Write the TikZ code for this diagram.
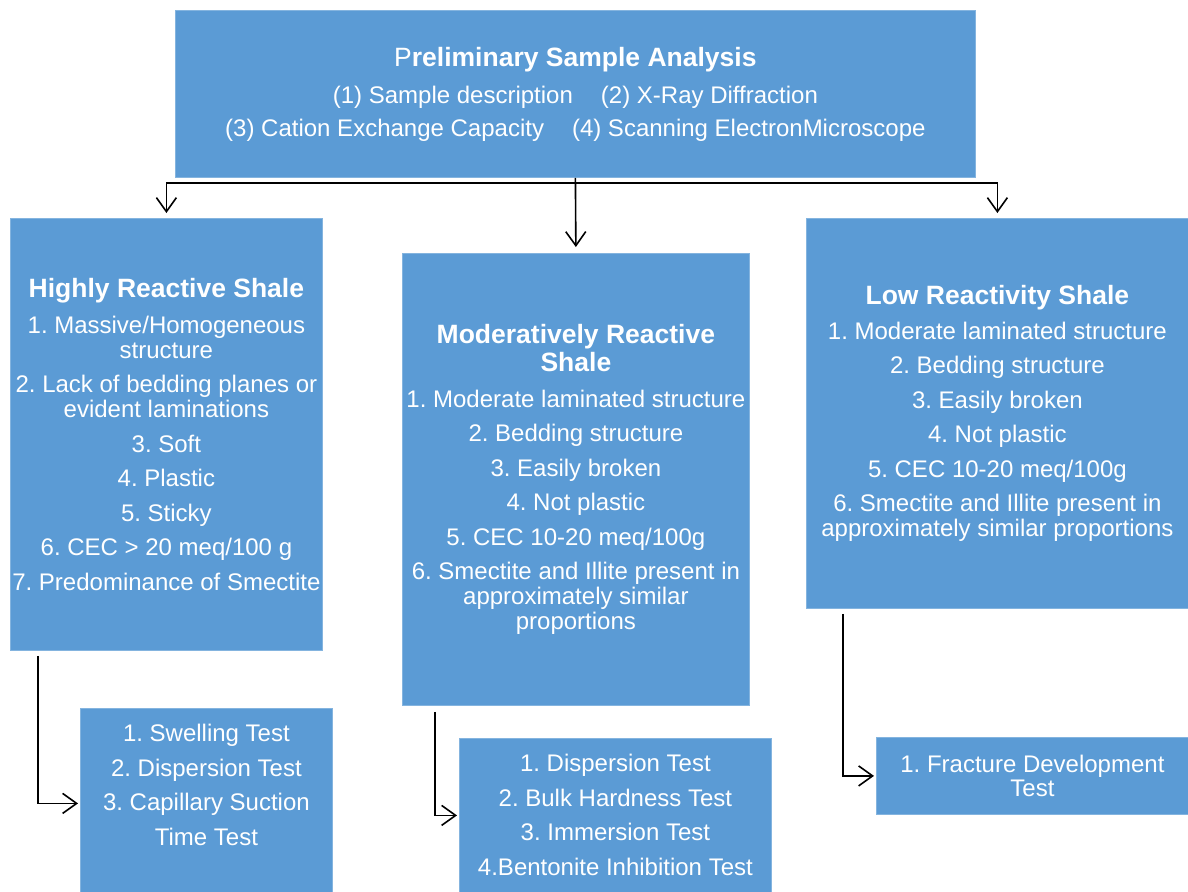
\documentclass[tikz,border=0pt]{standalone}
\usepackage{fontspec}
\setmainfont{Liberation Sans}
\usetikzlibrary{positioning,arrows.meta}
\definecolor{boxblue}{HTML}{5B9BD5}
\frenchspacing
\newcommand\bodyfont{\fontsize{12}{12.5}\selectfont}
\newcommand\headfont{\fontsize{13.25}{14}\selectfont\bfseries}
\newcommand\nextitem{\\[4.75pt]}
\tikzset{
	box/.style		= {rectangle, fill=boxblue, draw=boxblue!75!white, line width=0.4pt, inner sep=0pt,
					   anchor=north west, text=white, align=center, font=\bodyfont},
	txt/.style		= {inner sep=0pt, text=white, align=center, font=\bodyfont},
	arr/.style		= {line width=0.8pt, -{Straight Barb[length=7pt,width=10pt]}, shorten >=1pt},
}
\begin{document}
\begin{tikzpicture}[x=0.5pt, y=-0.5pt]
	% Cadre
	\useasboundingbox	(0,0)	rectangle	(1188,891);
	\clip				(0,0)	rectangle	(1188,891);
	\fill [white]		(0,0)	rectangle	(1188,891);
	% Preliminary analysis
	\node [box, minimum width=400pt, minimum height=83.5pt]	(prelim)	at (175,10)
		{{\headfont{\mdseries P}reliminary Sample Analysis}\\[6pt]
		 (1) Sample description\hspace{14pt}(2) X-Ray Diffraction\\[4pt]
		 (3) Cation Exchange Capacity\hspace{14pt}(4) Scanning ElectronMicroscope};
	% Shale classes
	\node [box, minimum width=156pt, minimum height=216pt]	(hrs)	at (10,218)
		{{\headfont Highly Reactive Shale}\\[5.5pt]
		 1. Massive/Homogeneous\\ structure\nextitem
		 2. Lack of bedding planes or\\ evident laminations\nextitem
		 3. Soft\nextitem
		 4. Plastic\nextitem
		 5. Sticky\nextitem
		 6. CEC > 20 meq/100 g\nextitem
		 7. Predominance of Smectite};
	\node [box, minimum width=173.5pt, minimum height=226pt]	(mrs)	at (402,253)
		{{\headfont Moderatively Reactive}\\[1.5pt]
		 {\headfont Shale}\\[5.5pt]
		 1. Moderate laminated structure\nextitem
		 2. Bedding structure\nextitem
		 3. Easily broken\nextitem
		 4. Not plastic\nextitem
		 5. CEC 10-20 meq/100g\nextitem
		 6. Smectite and Illite present in\\ approximately similar\\ proportions};
	\node [box, minimum width=191pt, minimum height=195pt]	(lrs)	at (806,218)
		{{\headfont Low Reactivity Shale}\\[5pt]
		 1. Moderate laminated structure\nextitem
		 2. Bedding structure\nextitem
		 3. Easily broken\nextitem
		 4. Not plastic\nextitem
		 5. CEC 10-20 meq/100g\nextitem
		 6. Smectite and Illite present in\\ approximately similar proportions};
	% Tests
	\node [box, minimum width=126pt, minimum height=95pt]	(swellbox)	at (80,708)		{};
	\node [txt, anchor=north]	(swelltxt)	at ([yshift=-8pt]swellbox.north)
		{1. Swelling Test\nextitem
		 2. Dispersion Test\nextitem
		 3. Capillary Suction\nextitem
		 Time Test};
	\node [box, minimum width=156pt, minimum height=77pt]	(dispbox)	at (459,738)	{};
	\node [txt, anchor=north]	(disptxt)	at ([yshift=-8pt]dispbox.north)
		{1. Dispersion Test\nextitem
		 2. Bulk Hardness Test\nextitem
		 3. Immersion Test\nextitem
		 4.Bentonite Inhibition Test};
	\node [box, minimum width=156pt, minimum height=38.5pt]	(fracbox)	at (876,737)
		{1. Fracture Development\\[-0.5pt] Test};
	% Connecteurs
	\coordinate (split) at ([yshift=-2.5pt]prelim.south);
	\draw [arr, shorten >=2.5pt]	(split)			-| (hrs.north);
	\draw [arr, shorten >=2.5pt]	(split)			-| (lrs.north);
	\draw [arr, shorten >=3pt]		(prelim.south)	-- (mrs.north);
	\draw [arr]	([xshift=14pt,yshift=-2.5pt]hrs.south west)		|- (swellbox.west);
	\draw [arr]	([xshift=16.5pt,yshift=-3pt]mrs.south west)		|- (dispbox.west);
	\draw [arr]	([xshift=18.5pt,yshift=-2.5pt]lrs.south west)	|- (fracbox.west);
\end{tikzpicture}
\end{document}
